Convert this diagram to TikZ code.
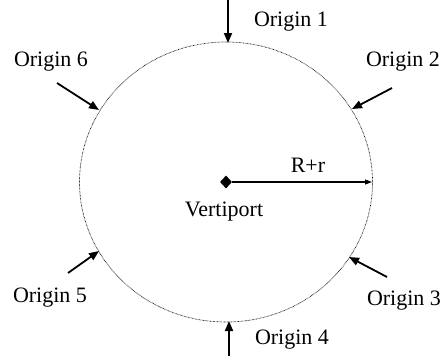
\documentclass[tikz,border=0pt]{standalone}
\usepackage{fontspec}
\setmainfont{Liberation Serif}
\usetikzlibrary{arrows.meta,shapes.geometric}
\begin{document}
\begin{tikzpicture}[x=1pt,y=-1pt,
  lbl/.style={font=\fontsize{22}{25}\selectfont, inner sep=0pt},
  inarrow/.style={line width=1.8pt, -{Triangle[length=10pt,width=8pt]}},
  radarrow/.style={line width=1.1pt, -{Triangle[length=7pt,width=5pt]}}]
\useasboundingbox (0,0) rectangle (447,356);
\node[draw, dash pattern=on 0.6pt off 0.8pt, line width=0.7pt, ellipse, minimum width=293pt, minimum height=280pt, inner sep=0pt] (c) at (226,182) {};
\node[diamond, fill=black, minimum width=12pt, minimum height=13pt, inner sep=0pt] (v) at (226,182) {};
\coordinate (rend) at (372,182);
\draw[radarrow] (v.east) -- (rend);
\node[lbl] (rr) at (308,165) {R+r};
\node[lbl] (vt) at (224,212) {Vertiport};
% origins
\node[lbl] (o1) at (291,22) {Origin 1};
\node[lbl] (o2) at (403,62) {Origin 2};
\node[lbl] (o3) at (404,301) {Origin 3};
\node[lbl] (o4) at (292,340) {Origin 4};
\node[lbl] (o5) at (50,298) {Origin 5};
\node[lbl] (o6) at (51,62) {Origin 6};
\coordinate (s1) at (228,0);   \coordinate (e1) at (228,43);
\coordinate (s2) at (392,88);  \coordinate (e2) at (352,109);
\coordinate (s3) at (387,277); \coordinate (e3) at (349,257);
\coordinate (s4) at (229,356); \coordinate (e4) at (229,321);
\coordinate (s5) at (68,273);  \coordinate (e5) at (99,251);
\coordinate (s6) at (57,83);   \coordinate (e6) at (99,110);
\foreach \i in {1,...,6} {\draw[inarrow] (s\i) -- (e\i);}
\end{tikzpicture}
\end{document}
